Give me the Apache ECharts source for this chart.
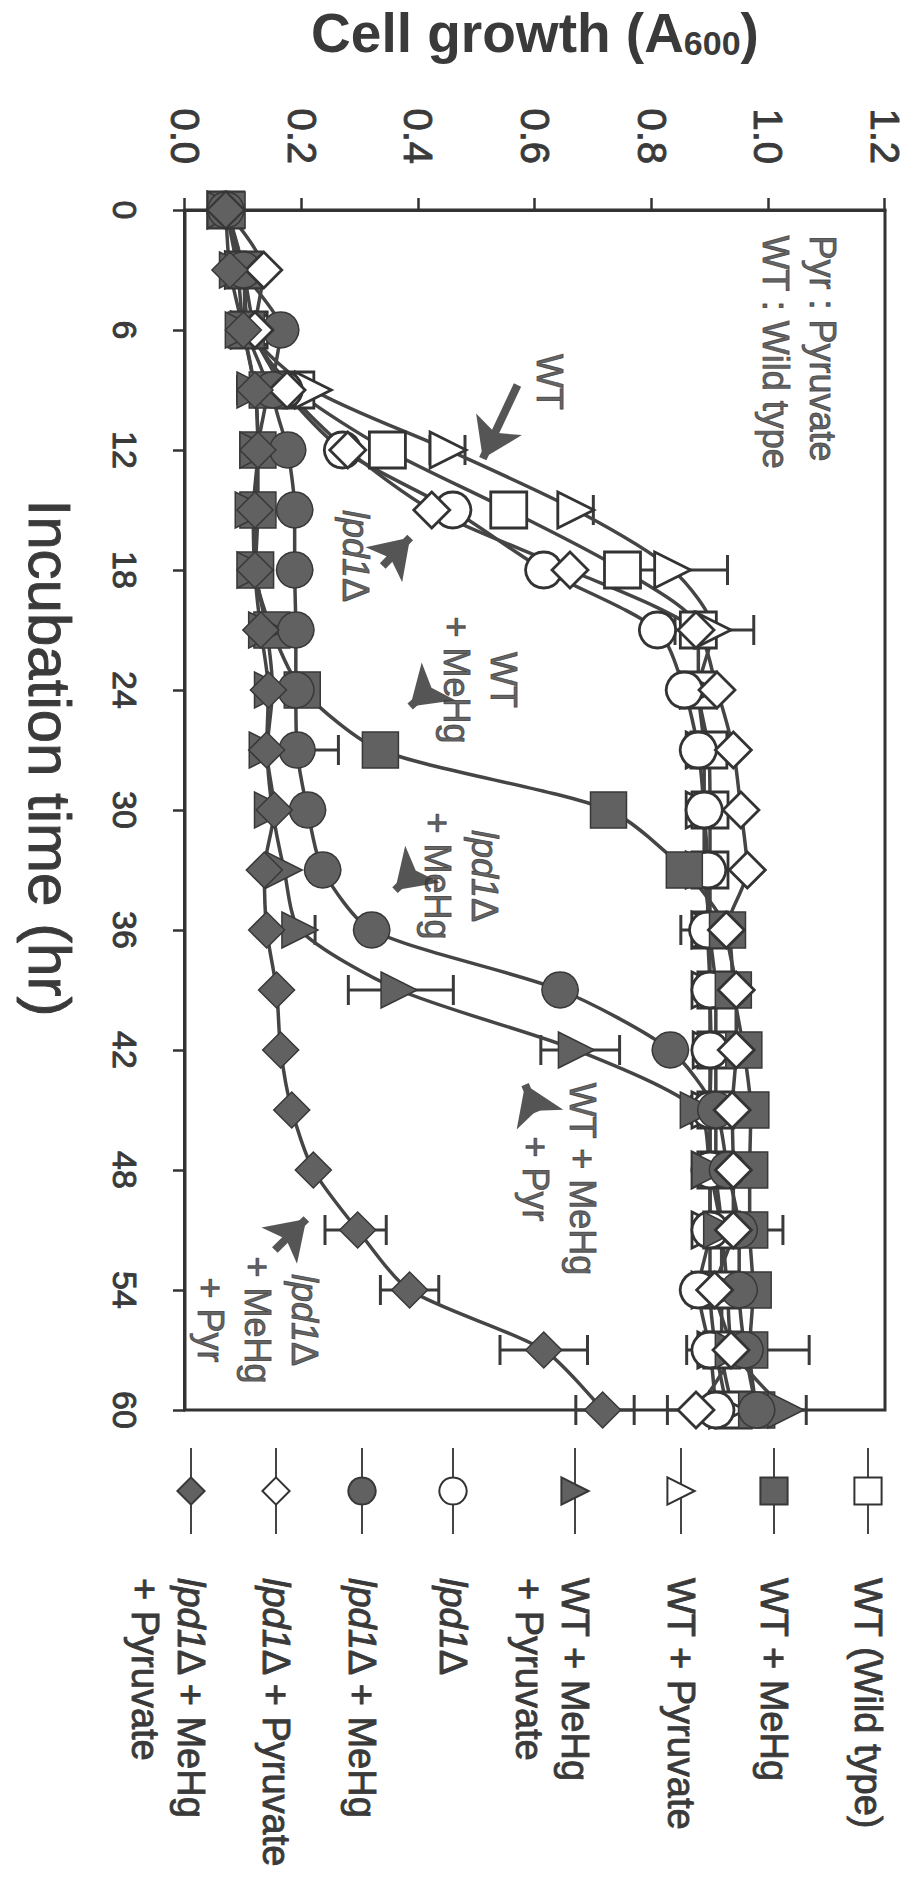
<!DOCTYPE html>
<html><head><meta charset="utf-8">
<script src="https://cdn.jsdelivr.net/npm/echarts@6/dist/echarts.min.js"></script>
<style>
html,body{margin:0;padding:0;background:#fff;overflow:hidden;width:917px;height:1887px;}
#wrap{position:absolute;left:0;top:0;width:1887px;height:917px;transform-origin:0 0;transform:translate(917px,0) rotate(90deg);}
#chart{width:1887px;height:917px;}
</style></head><body>
<div id="wrap"><div id="chart"></div></div>
<script>
// ---- data ----
const times = [0,3,6,9,12,15,18,21,24,27,30,33,36,39,42,45,48,51,54,57,60];
const wt         = [0.07,0.10,0.11,0.19,0.347,0.555,0.75,0.88,0.88,0.898,0.90,0.90,0.90,0.91,0.91,0.91,0.91,0.92,0.92,0.92,0.94];
const wtMeHg     = [0.072,0.10,0.105,0.141,0.125,0.125,0.121,0.149,0.201,0.335,0.726,0.856,0.93,0.94,0.958,0.97,0.968,0.968,0.974,0.968,0.98];
const wtPyr      = [0.07,0.10,0.11,0.22,0.451,0.67,0.836,0.905,0.88,0.89,0.89,0.89,0.90,0.90,0.902,0.90,0.90,0.90,0.90,0.91,0.93];
const wtMeHgPyr  = [0.07,0.09,0.10,0.12,0.125,0.117,0.12,0.14,0.15,0.141,0.15,0.17,0.197,0.367,0.671,0.88,0.90,0.92,0.93,0.94,1.03];
const lpd        = [0.07,0.10,0.12,0.17,0.27,0.459,0.615,0.81,0.856,0.88,0.89,0.896,0.896,0.90,0.90,0.90,0.90,0.90,0.88,0.90,0.91];
const lpdMeHg    = [0.07,0.10,0.164,0.15,0.176,0.188,0.188,0.19,0.19,0.192,0.21,0.236,0.32,0.643,0.832,0.91,0.93,0.95,0.95,0.96,0.98];
const lpdPyr     = [0.07,0.135,0.12,0.175,0.279,0.423,0.66,0.876,0.912,0.94,0.953,0.964,0.928,0.945,0.945,0.938,0.94,0.94,0.908,0.936,0.876];
const lpdMeHgPyr = [0.07,0.077,0.10,0.12,0.125,0.12,0.12,0.13,0.143,0.14,0.153,0.136,0.14,0.157,0.164,0.183,0.22,0.296,0.385,0.615,0.716];

// error bars: [time, low, high]
const errorBars = [
  [9,0.09,0.19],[12,0.42,0.48],[15,0.64,0.70],[18,0.75,0.93],[21,0.84,0.975],
  [27,0.12,0.263],[36,0.85,0.94],[36,0.17,0.223],[39,0.28,0.46],[42,0.61,0.745],
  [45,0.868,0.93],[51,0.91,1.025],[51,0.24,0.345],[54,0.335,0.435],[57,0.54,0.69],
  [57,0.86,1.07],[60,0.67,0.77],[60,0.827,0.925],[60,0.95,1.065]
];

const seriesNames = ['WT (Wild type)','WT + MeHg','WT + Pyruvate','WT + MeHg + Pyruvate',
  'lpd1Δ','lpd1Δ + MeHg','lpd1Δ + Pyruvate','lpd1Δ + MeHg + Pyruvate'];
const legendLabels = ['WT (Wild type)','WT + MeHg','WT + Pyruvate','WT + MeHg\n+ Pyruvate',
  '{i|lpd1}Δ','{i|lpd1}Δ + MeHg','{i|lpd1}Δ + Pyruvate','{i|lpd1}Δ + MeHg\n+ Pyruvate'];

// annotations (data coords)
const annoTexts  = ['Pyr : Pyruvate\nWT : Wild type','WT','{i|lpd1}Δ','WT\n+ MeHg','{i|lpd1}Δ\n+ MeHg','WT + MeHg\n+ Pyr','{i|lpd1}Δ\n+ MeHg\n+ Pyr'];
const annoTime   = [1.25, 8.6, 17.3, 23.5, 33.3, 48.45, 55.5];
const annoGrowth = [1.053, 0.624, 0.293, 0.506, 0.4735, 0.641, 0.125];
// arrows: [tailTime, tailGrowth, headTime, headGrowth]
const arrows = [
  [8.75,0.570,12.43,0.5105],
  [17.8,0.339,16.37,0.386],
  [24.0,0.418,24.83,0.386],
  [33.1,0.393,34.01,0.360],
  [45.1,0.603,43.73,0.583],
  [52.0,0.154,50.45,0.208]
];

// ---- layout / style ----
const FONT = "'Liberation Sans', Arial, Helvetica, sans-serif";
const TXT = '#3a3a3a';
const legendCenters = [49,143,236,342,464,555,641,726];
const LEG_LH = 46;

function mk(name, data, symbol, filled){
  return {
    name, type:'line', data: times.map((t,i)=>[t,data[i]]),
    symbol, symbolSize: 36, smooth: 0.25, showSymbol: true,
    lineStyle:{color:'#454545', width:3.5},
    itemStyle: filled ? {color:'#616161', borderColor:'#383838', borderWidth:1.5}
                      : {color:'#ffffff', borderColor:'#333333', borderWidth:2.8},
    emphasis:{disabled:true}, z:2
  };
}

const series = [
  mk(seriesNames[0], wt, 'rect', false),
  mk(seriesNames[2], wtPyr, 'triangle', false),
  mk(seriesNames[4], lpd, 'circle', false),
  mk(seriesNames[1], wtMeHg, 'rect', true),
  mk(seriesNames[3], wtMeHgPyr, 'triangle', true),
  mk(seriesNames[5], lpdMeHg, 'circle', true),
  mk(seriesNames[6], lpdPyr, 'diamond', false),
  mk(seriesNames[7], lpdMeHgPyr, 'diamond', true)
];

series.push({
  name:'errors', type:'custom', z:1, silent:true,
  data: errorBars,
  encode:{x:0, y:[1,2]},
  renderItem: function(params, api){
    const t = api.value(0), lo = api.value(1), hi = api.value(2);
    const p1 = api.coord([t, lo]), p2 = api.coord([t, hi]);
    const cap = 15, st = {stroke:'#3a3a3a', lineWidth:3};
    return {type:'group', children:[
      {type:'line', shape:{x1:p1[0],y1:p1[1],x2:p2[0],y2:p2[1]}, style:st},
      {type:'line', shape:{x1:p1[0]-cap,y1:p1[1],x2:p1[0]+cap,y2:p1[1]}, style:st},
      {type:'line', shape:{x1:p2[0]-cap,y1:p2[1],x2:p2[0]+cap,y2:p2[1]}, style:st}
    ]};
  }
});

const textLook = {color:TXT, textBorderColor:TXT, textBorderWidth:0.9, fontFamily:FONT};

series.push({
  name:'annotations', type:'scatter', z:6, silent:true,
  symbol:'circle', symbolSize:1, itemStyle:{color:'rgba(0,0,0,0)'},
  data: annoTexts.map((txt,i)=>{
    const item = {name: txt, value:[annoTime[i], annoGrowth[i]]};
    if (i === 0) item.label = {position:'right', distance:0, align:'left'};
    return item;
  }),
  label:Object.assign({show:true, position:'inside', formatter: p => p.name,
    fontSize:36, lineHeight:47, align:'center',
    rich:{i:Object.assign({fontStyle:'italic', fontSize:36, lineHeight:47}, textLook)}}, textLook)
});

// arrows drawn as a separate line-less series carrying markLines
series.push({
  name:'arrows', type:'line', data:[], silent:true, z:6,
  itemStyle:{color:'#555555'},
  lineStyle:{color:'#555555'},
  markLine:{
    silent:true, symbol:['none','arrow'], symbolSize:38,
    itemStyle:{color:'#555555'},
    lineStyle:{color:'#555555', width:8, type:'solid'},
    label:{show:false}, emphasis:{disabled:true},
    data: arrows.map(a=>[{coord:[a[0],a[1]]},{coord:[a[2],a[3]]}])
  }
});

const legends = seriesNames.map((n,i)=>{
  const twoLine = legendLabels[i].indexOf('\n') >= 0;
  const boxH = twoLine ? LEG_LH*3 : LEG_LH;
  return {
    data:[n], orient:'vertical', left:1447, top: legendCenters[i] - boxH/2,
    padding:0, itemGap:0, itemWidth:86, itemHeight:34, selectedMode:false,
    formatter: () => legendLabels[i],
    textStyle:Object.assign({fontSize:38, lineHeight:LEG_LH,
      padding: twoLine ? [LEG_LH,0,0,39] : [0,0,0,39],
      rich:{i:Object.assign({fontStyle:'italic', fontSize:38, lineHeight:LEG_LH}, textLook)}}, textLook)
  };
});

const option = {
  animation:false,
  backgroundColor:'#ffffff',
  textStyle:{fontFamily:FONT},
  grid:{left:210, top:32, width:1200, height:700, show:true, borderColor:'#333', borderWidth:3,
        backgroundColor:'transparent', containLabel:false, outerBoundsMode:'none'},
  xAxis:{
    type:'value', min:0, max:60, interval:6,
    axisLine:{show:true, lineStyle:{color:'#333', width:3}},
    axisTick:{show:true, inside:false, length:12, lineStyle:{color:'#333', width:2.5}},
    axisLabel:Object.assign({fontSize:34, margin:43}, textLook),
    splitLine:{show:false},
    name:'Incubation time (hr)', nameLocation:'middle', nameGap:106,
    nameTextStyle:Object.assign({fontSize:60, padding:[0,104,0,0]}, textLook)
  },
  yAxis:{
    type:'value', min:0, max:1.2, interval:0.2,
    axisLine:{show:true, lineStyle:{color:'#333', width:3}},
    axisTick:{show:true, inside:false, length:12, lineStyle:{color:'#333', width:2.5}},
    axisLabel:Object.assign({fontSize:40, margin:46, formatter: v => v.toFixed(1)}, textLook),
    splitLine:{show:false},
    name:'{a|Cell growth (A}{b|600}{a|)}', nameLocation:'middle', nameGap:150,
    nameTextStyle:{color:TXT, rich:{
      a:{fontSize:55, fontWeight:'bold', color:TXT, fontFamily:FONT, lineHeight:64, verticalAlign:'bottom'},
      b:{fontSize:34, fontWeight:'bold', color:TXT, fontFamily:FONT, lineHeight:50, verticalAlign:'bottom'}
    }}
  },
  legend: legends,
  series
};

const chart = echarts.init(document.getElementById('chart'), null, {renderer:'svg', width:1887, height:917});
chart.setOption(option);
</script>
</body></html>
